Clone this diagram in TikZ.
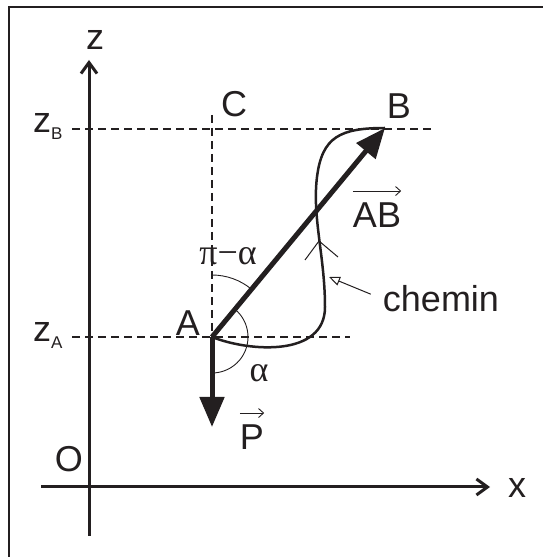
\documentclass[tikz,border=0pt]{standalone}
\usepackage{fontspec}
\setmainfont{Liberation Sans}
\newfontfamily\grkfont{Liberation Serif}
\usetikzlibrary{arrows.meta}
\definecolor{ink}{HTML}{231F20}
\newcommand{\lbl}{\fontsize{36}{40}\selectfont}
\newcommand{\sbl}{\fontsize{17}{20}\selectfont}
\newcommand{\zsub}[1]{z\raisebox{-7pt}{\sbl #1}}

\begin{document}
\begin{tikzpicture}[x=1pt,y=1pt,font=\lbl,text=ink,
  axis/.style={ink,line width=3pt,-{Straight Barb[length=11pt,width=16pt]}},
  guide/.style={ink,line width=2pt,dash pattern=on 8pt off 5pt},
  vec/.style={ink,line width=5pt,-{Triangle[length=30pt,width=24pt]}},
  trail/.style={ink,line width=2.5pt},
  anglearc/.style={ink,line width=0.9pt},
  overarrow/.style={ink,line width=0.9pt,-{Straight Barb[length=5pt,width=9pt]}},
  lab/.style={inner sep=0}]
\useasboundingbox (0,0) rectangle (543,557);
\draw[ink,line width=2.5pt] (9,0) -- (9,550) -- (543,550);
% axes
\coordinate (zbot) at (89,21);
\coordinate (ztop) at (89,497);
\coordinate (xleft) at (41,70);
\coordinate (xright) at (490,70);
\draw[axis] (zbot) -- (ztop);
\draw[axis] (xleft) -- (xright);
\node[lab] (zlab) at (95,517) {z};
\node[lab] (xlab) at (517,69) {x};
\node[lab] (olab) at (69,98) {O};
% points
\coordinate (A) at (212,220);
\coordinate (B) at (385,429);
\coordinate (C) at (212,442);
\coordinate (P) at (212,130);
\coordinate (zBl) at (72,428);
\coordinate (zBr) at (432,428);
\coordinate (zAl) at (72,220);
\coordinate (zAr) at (350,220);
\draw[guide] (zBl) -- (zBr);
\draw[guide] (zAl) -- (zAr);
\draw[guide] (C) -- (A);
\node[lab,anchor=base west] (zBlab) at (33,424) {\zsub{B}};
\node[lab,anchor=base west] (zAlab) at (33,215) {\zsub{A}};
\node[lab] (Clab) at (234,453) {C};
\node[lab] (Blab) at (399,451) {B};
\node[lab] (Alab) at (188,234) {A};
% angles
\draw[anglearc] (A) ++(90:62) arc[start angle=90,end angle=50.4,radius=62];
\draw[anglearc] (A) ++(50.4:36) arc[start angle=50.4,end angle=-90,radius=36];
\node[lab,anchor=base] (pialab) at (228,292) {\grkfont π−α};
\node[lab,anchor=base] (alab) at (259,175) {\grkfont α};
% chemin
\draw[trail] (A) .. controls (250,205) and (325,200) .. (325,250)
  .. controls (325,300) and (312,340) .. (317,380)
  .. controls (322,420) and (340,429) .. (B);
\draw[ink,line width=1pt] (305,297) -- (319,316) -- (338,300);
\node[lab,anchor=base] (chemin) at (441,245) {chemin};
\coordinate (cheminpt) at (329,280);
\draw[ink,line width=1pt,shorten <=13pt,-{Triangle[open,length=11pt,width=9pt]}] (chemin.west) -- (cheminpt);
% vectors
\draw[vec] (A) -- (B);
\draw[vec] (A) -- (P);
\node[lab,anchor=base] (ABlab) at (377,329) {AB};
\node[lab,anchor=base] (Plab) at (252,107) {P};
\draw[overarrow] ([yshift=12pt]ABlab.north west) -- ([yshift=12pt]ABlab.north east);
\draw[overarrow] ([yshift=12pt]Plab.north west) -- ([yshift=12pt]Plab.north east);
\end{tikzpicture}
\end{document}
